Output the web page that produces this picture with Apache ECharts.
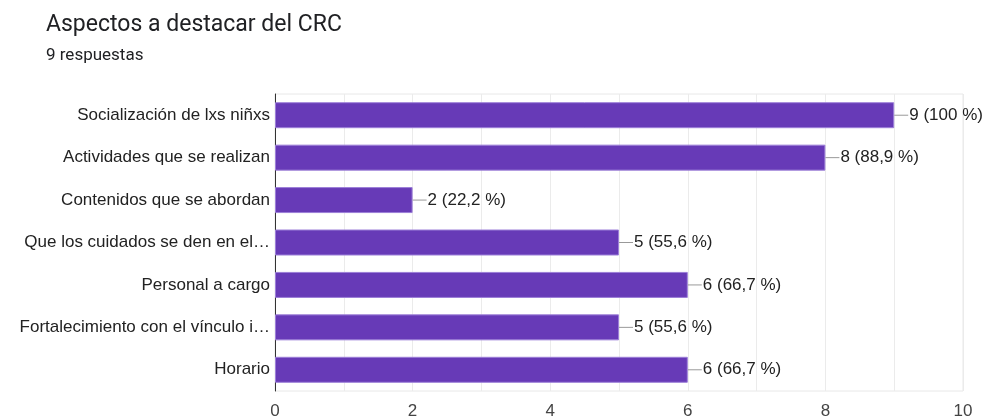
<!DOCTYPE html>
<html>
<head>
<meta charset="utf-8">
<script src="https://cdn.jsdelivr.net/npm/echarts@6/dist/echarts.min.js"></script>
<style>
html,body{margin:0;padding:0;background:#fff;}
#chart{width:988px;height:416px;}
</style>
</head>
<body>
<div id="chart"></div>
<script>
const categories = [
  "Socialización de lxs niñxs",
  "Actividades que se realizan",
  "Contenidos que se abordan",
  "Que los cuidados se den en el…",
  "Personal a cargo",
  "Fortalecimiento con el vínculo i…",
  "Horario"
];
const counts = [9, 8, 2, 5, 6, 5, 6];
const percents = ["100", "88,9", "22,2", "55,6", "66,7", "55,6", "66,7"];
const xTicks = [0, 2, 4, 6, 8, 10];

const chart = echarts.init(document.getElementById('chart'));
chart.setOption({
  animation: false,
  title: {
    text: 'Aspectos a destacar del CRC',
    subtext: '9 respuestas',
    left: 41,
    top: 9,
    itemGap: 10,
    textStyle: {fontFamily: 'Roboto', fontSize: 23, fontWeight: 'normal', color: '#202124'},
    subtextStyle: {fontFamily: 'Roboto', fontSize: 17, color: '#202124'}
  },
  grid: {
    left: 275, right: 25, top: 94, bottom: 25,
    containLabel: false,
    outerBoundsMode: 'none',
    show: true, borderColor: '#e8e8e8', borderWidth: 1
  },
  xAxis: {
    type: 'value',
    min: xTicks[0], max: xTicks[xTicks.length - 1], interval: 2,
    axisLine: {show: false},
    axisTick: {show: false},
    axisLabel: {margin: 12, fontSize: 17, color: '#444', fontFamily: 'Liberation Sans'},
    splitLine: {show: true, lineStyle: {color: '#ebebeb', width: 1}},
    minorTick: {show: false, splitNumber: 2},
    minorSplitLine: {show: true, lineStyle: {color: '#ebebeb', width: 1}}
  },
  yAxis: {
    type: 'category',
    data: categories,
    inverse: true,
    axisLine: {show: true, lineStyle: {color: '#333', width: 1}},
    axisTick: {show: false},
    axisLabel: {margin: 5, fontSize: 17, color: '#222', fontFamily: 'Liberation Sans'}
  },
  series: [{
    type: 'bar',
    data: counts,
    barWidth: 26,
    itemStyle: {color: '#673ab7', borderColor: '#9c7fd8', borderWidth: 1},
    label: {
      show: true,
      position: 'right',
      distance: 0,
      formatter: p => '{l|}{t|' + counts[p.dataIndex] + ' (' + percents[p.dataIndex] + ' %)}',
      rich: {
        l: {width: 14, height: 1, backgroundColor: '#999', verticalAlign: 'middle'},
        t: {fontSize: 17, color: '#222', fontFamily: 'Liberation Sans', padding: [0, 0, 0, 1]}
      }
    }
  }]
});
</script>
</body>
</html>
